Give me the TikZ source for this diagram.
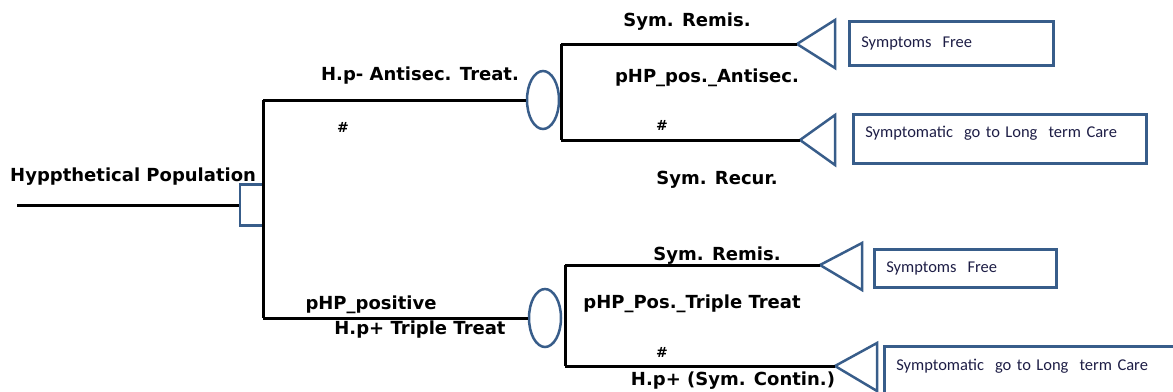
\documentclass[tikz,border=0pt]{standalone}
\usepackage{fontspec}
\setmainfont{DejaVu Sans}
\newfontfamily\boxfont{Carlito}
\usetikzlibrary{shapes.geometric}
\definecolor{outl}{RGB}{56,93,138}
\definecolor{boxtxt}{RGB}{30,30,70}
\begin{document}
\begin{tikzpicture}[x=1pt,y=-1pt,
  branch/.style={line width=3pt},
  lbl/.style={font=\bfseries\fontsize{18}{20}\selectfont, inner sep=0pt},
  hash/.style={font=\bfseries\fontsize{14}{14}\selectfont, inner sep=0pt},
  decnode/.style={draw=outl, line width=2.5pt, rectangle, minimum width=23pt, minimum height=41pt, inner sep=0pt},
  chance/.style={draw=outl, line width=2.5pt, ellipse, minimum width=32pt, minimum height=58pt, inner sep=0pt},
  endbox/.style={draw=outl, line width=2.5pt, rectangle, anchor=north west, inner xsep=12pt, inner ysep=0pt, align=left, text=boxtxt, font=\boxfont\fontsize{16.5}{18}\selectfont},
  tri/.style={draw=outl, line width=2.5pt, line join=miter}
]
\useasboundingbox (0,0) rectangle (1173,391);

% nodes
\coordinate (r0) at (17,205);
\node[decnode] (dec) at (251.5,205) {};
\coordinate (j1) at (263,100);
\coordinate (j2) at (263,318);
\node[chance] (c1) at (543,100) {};
\node[chance] (c2) at (545,318) {};
\coordinate (k1) at (561,44);
\coordinate (k2) at (561,140);
\coordinate (m1) at (565,265);
\coordinate (m2) at (565,366);

% terminal triangles
\coordinate (t1) at (797,44);
\coordinate (t2) at (800,140);
\coordinate (t3) at (820,265);
\coordinate (t4) at (835,366);
\draw[tri] (t1) -- (835,20) -- (835,68) -- cycle;
\draw[tri] (t2) -- (835,115) -- (835,165) -- cycle;
\draw[tri] (t3) -- (862,243) -- (862,290) -- cycle;
\draw[tri] (t4) -- (877,343) -- (877,391) -- cycle;

% end boxes
\node[endbox, text width=180pt, minimum height=44pt] (b1) at (848,20) {Symptoms\ \ Free};
\node[endbox, text width=269pt, minimum height=49pt, text depth=14pt] (b2) at (852,113) {Symptomatic\ \ go to Long\ \ term Care};
\node[endbox, text width=158pt, minimum height=38pt] (b3) at (873,248) {Symptoms\ \ Free};
\node[endbox, text width=276pt, minimum height=55pt, text depth=18pt] (b4) at (883,345) {Symptomatic\ \ go to Long\ \ term Care};

% branches
\draw[branch] (r0) -- (dec.west);
\draw[branch] (j1) -- (j2);
\draw[branch] (j1) -- (c1.west);
\draw[branch] (j2) -- (c2.west);
\draw[branch] (k1) -- (k2);
\draw[branch] (k1) -- (t1);
\draw[branch] (k2) -- (t2);
\draw[branch] (m1) -- (m2);
\draw[branch] (m1) -- (t3);
\draw[branch] (m2) -- (t4);

% labels
\node[lbl, anchor=west] (lpop) at (10,177) {Hyppthetical Population};
\node[lbl] (l1) at (420,76) {H.p- Antisec. Treat.};
\node[hash] (h1) at (343,127) {\#};
\node[lbl] (l2) at (687,22) {Sym. Remis.};
\node[lbl] (l3) at (707,78) {pHP\_pos.\_Antisec.};
\node[hash] (h2) at (662,125) {\#};
\node[lbl] (l4) at (717,180) {Sym. Recur.};
\node[lbl] (l5) at (371,305) {pHP\_positive};
\node[lbl] (l6) at (420,330) {H.p+ Triple Treat};
\node[lbl] (l7) at (717,256) {Sym. Remis.};
\node[lbl] (l8) at (692,304) {pHP\_Pos.\_Triple Treat};
\node[hash] (h3) at (662,352) {\#};
\node[lbl] (l9) at (733,381) {H.p+ (Sym. Contin.)};
\end{tikzpicture}
\end{document}
